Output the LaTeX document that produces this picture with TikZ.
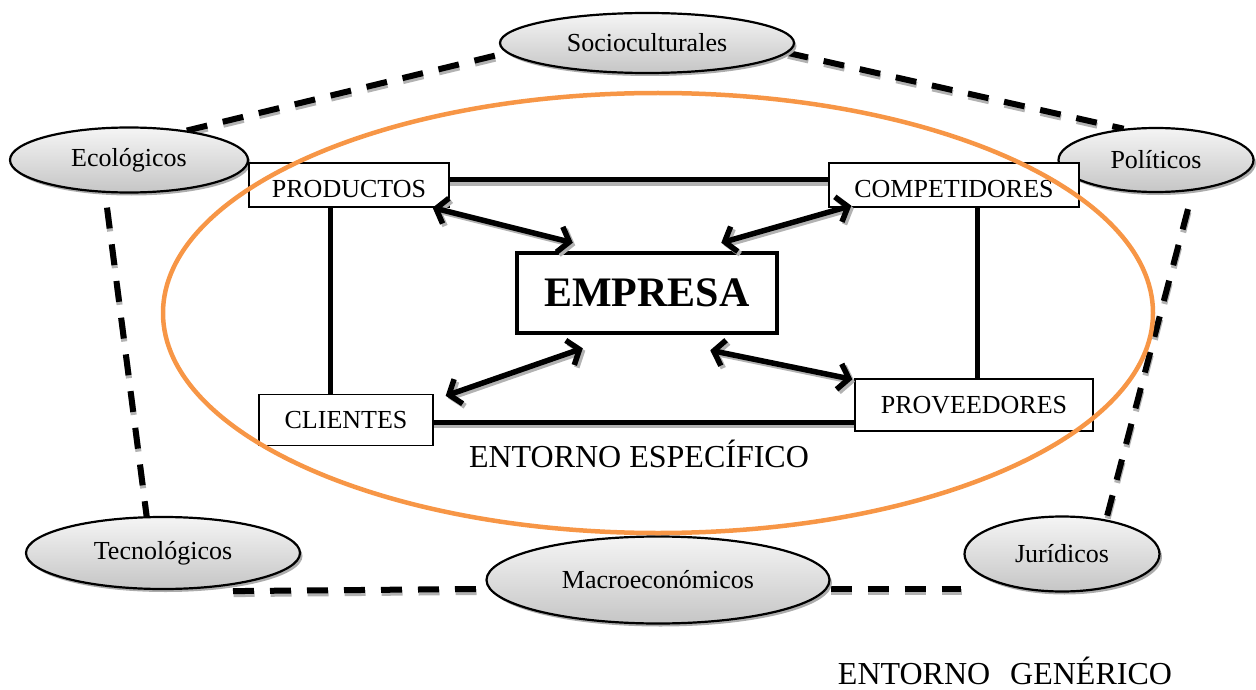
\documentclass[tikz,border=0pt]{standalone}
\usepackage{fontspec}
\setmainfont{Liberation Serif}
\usetikzlibrary{shapes.geometric,shadows,arrows.meta,backgrounds}
\definecolor{orng}{HTML}{F79646}
\tikzset{
 env/.style={ellipse, draw=black, line width=2.2pt, shading=axis, top color=gray!8, bottom color=gray!45,
   drop shadow={shadow xshift=2.5pt, shadow yshift=-3pt, fill=gray!65, opacity=1},
   inner sep=0pt, font=\fontsize{26}{30}\selectfont},
 sbox/.style={draw=black, line width=1.3pt, fill=white, inner sep=0pt, font=\fontsize{26}{30}\selectfont},
 dline/.style={line width=6pt, dash pattern=on 21pt off 16pt},
 sline/.style={line width=5pt},
 dbl/.style={line width=5.5pt, {Straight Barb[length=10pt,width=26pt]}-{Straight Barb[length=10pt,width=26pt]}},
}
\newcommand\myDashes[1]{%
 \draw[dline,#1] (Eco.27) -- (Soc.184);
 \draw[dline,#1] (Soc.-4) -- (Pol.136);
 \draw[dline,#1] ([xshift=-22pt,yshift=-14pt]Eco.south) -- (Tec.114);
 \draw[dline,#1] ([xshift=32pt,yshift=-16pt]Pol.south) -- (Jur.38);
 \draw[dline,#1] ([xshift=70pt,yshift=-1pt]Tec.south) -- ([xshift=-9pt,yshift=-9pt]Mac.west);
 \draw[dline,#1] ([yshift=-9pt]Mac.east) -- ([xshift=-2pt,yshift=-35pt]Jur.west);
}
\newcommand\myConns[1]{%
 \draw[sline,#1] (Prod.east |- tl) -- (Comp.west |- tl);
 \draw[sline,#1] (Prod.south -| pl) -- (Cli.north -| pl);
 \draw[sline,#1] (Comp.south -| pr) -- (Prov.north -| pr);
 \draw[sline,#1] (Cli.east |- bl) -- (Prov.west |- bl);
}
\newcommand\myArrows[1]{%
 \draw[dbl,#1] ([xshift=-17pt]Prod.south east) -- ([xshift=58pt,yshift=8pt]Emp.north west);
 \draw[dbl,#1] ([xshift=23pt,yshift=2pt]Comp.south west) -- ([xshift=-58pt,yshift=8pt]Emp.north east);
 \draw[dbl,#1] ([xshift=12pt,yshift=-2pt]Cli.north east) -- ([xshift=68pt,yshift=-13pt]Emp.south west);
 \draw[dbl,#1] ([xshift=-2pt,yshift=-1pt]Prov.north west) -- ([xshift=-69pt,yshift=-15pt]Emp.south east);
}
\begin{document}
\begin{tikzpicture}[x=1pt,y=-1pt]
\useasboundingbox (0,0) rectangle (1256,690);
% outer environment ellipses
\node[env, minimum width=294pt, minimum height=60pt] (Soc) at (647,43) {Socioculturales};
\node[env, minimum width=238pt, minimum height=65pt] (Eco) at (129,160) {Ecológicos};
\node[env, minimum width=195pt, minimum height=64pt] (Pol) at (1156,160) {Políticos};
\node[env, minimum width=274pt, minimum height=72pt] (Tec) at (163,553) {Tecnológicos};
\node[env, minimum width=343pt, minimum height=87pt] (Mac) at (658,580) {Macroeconómicos};
\node[env, minimum width=195pt, minimum height=75pt] (Jur) at (1062,554) {Jurídicos};
% boxes
\node[sbox, minimum width=200pt, minimum height=44pt, text height=25pt, text depth=0pt] (Prod) at (349,185) {PRODUCTOS};
\node[sbox, minimum width=250pt, minimum height=44pt, text height=25pt, text depth=0pt] (Comp) at (954,185) {COMPETIDORES};
\node[sbox, minimum width=174pt, minimum height=51pt] (Cli) at (346,420) {CLIENTES};
\node[sbox, minimum width=238pt, minimum height=52pt] (Prov) at (974,405) {PROVEEDORES};
\coordinate (tl) at (0,180);
\coordinate (bl) at (0,422);
\coordinate (pl) at (330,0);
\coordinate (pr) at (977,0);
\begin{pgfonlayer}{background}
 \begin{scope}[transform canvas={shift={(0.5pt,-3pt)}}]
  \myDashes{gray!60}
  \myConns{gray!60}
 \end{scope}
 \myDashes{}
 \myConns{}
\end{pgfonlayer}
% specific environment
\node[ellipse, draw=orng, line width=4.5pt, minimum width=990pt, minimum height=440pt, inner sep=0pt] (Ent) at (658,313) {};
\node[draw=black, line width=4.5pt, fill=white, minimum width=260pt, minimum height=80pt, inner sep=0pt,
  font=\bfseries\fontsize{42}{46}\selectfont] (Emp) at (647,293) {EMPRESA};
\begin{scope}[transform canvas={shift={(2.5pt,-2.5pt)}}]
 \myArrows{gray!60}
\end{scope}
\myArrows{}
\node[anchor=base, font=\fontsize{32}{36}\selectfont] (EE) at (639,467) {ENTORNO ESPECÍFICO};
\node[anchor=base, font=\fontsize{32}{36}\selectfont] (EG) at (1005,684) {ENTORNO\hspace{20pt}GENÉRICO};
\end{tikzpicture}
\end{document}
